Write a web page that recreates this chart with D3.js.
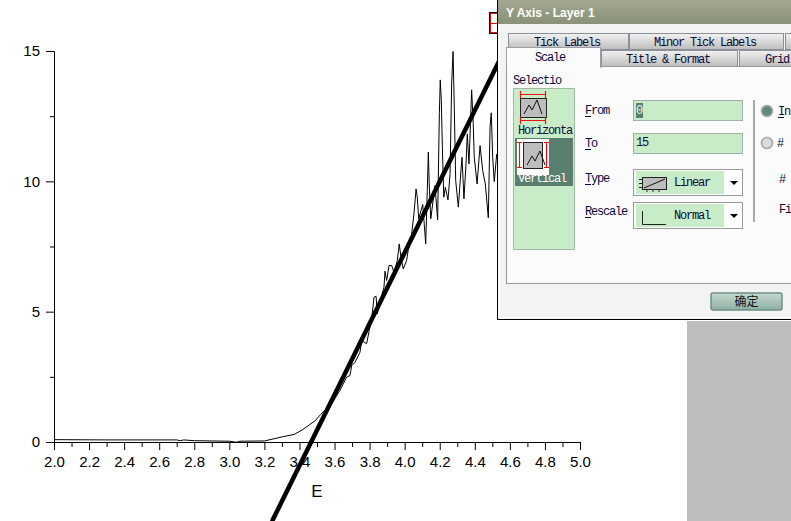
<!DOCTYPE html>
<html>
<head>
<meta charset="utf-8">
<script src="https://cdn.jsdelivr.net/npm/d3@7"></script>
<style>
html, body { margin: 0; padding: 0; background: #fff; overflow: hidden; }
svg { display: block; }
.tick text { font-family: "Liberation Sans", Arial, sans-serif; font-size: 15px; fill: #000; }
.ui { font-family: "Liberation Mono", monospace; font-size: 12px; letter-spacing: -1.2px; fill: #0a0a3a; }
</style>
</head>
<body>
<div id="chart"></div>
<script>
// curve
const energy = [2.0, 2.3, 2.7, 2.72, 2.74, 2.8, 3.0, 3.04, 3.06, 3.2, 3.31, 3.37, 3.42, 3.49, 3.52,
  3.584, 3.631, 3.669, 3.688, 3.698, 3.717, 3.745, 3.755, 3.783, 3.798, 3.812, 3.825, 3.837, 3.844, 3.859,
  3.882, 3.888, 3.897, 3.911, 3.926, 3.939, 3.958, 3.969, 3.979, 3.992, 4.011, 4.02, 4.035, 4.053, 4.065,
  4.072, 4.08, 4.103, 4.11, 4.12, 4.129, 4.135, 4.14, 4.149, 4.173, 4.188, 4.198, 4.203, 4.209, 4.215,
  4.223, 4.232, 4.247, 4.259, 4.268, 4.276, 4.283, 4.291, 4.306, 4.321, 4.327, 4.338, 4.35, 4.357, 4.367,
  4.382, 4.391, 4.397, 4.413, 4.43, 4.445, 4.46, 4.477, 4.487, 4.494, 4.502, 4.511, 4.525]
const intensity = [0.09, 0.08, 0.08, 0.05, 0.08, 0.05, 0.03, -0.01, 0.03, 0.04, 0.21, 0.29, 0.48, 0.82, 1.05,
  1.47, 1.98, 2.49, 2.55, 2.93, 3.06, 3.44, 3.89, 3.77, 4.28, 4.73, 5.55, 5.59, 4.92, 5.36,
  5.94, 6.55, 6.19, 6.77, 6.77, 6.51, 6.96, 7.6, 7.09, 6.64, 6.96, 7.35, 7.7, 8.75, 9.71,
  9.39, 8.56, 9.11, 8.5, 7.6, 9.65, 11.12, 9.9, 8.56, 9.84, 8.52, 12.65, 13.89, 13.1, 11.31,
  9.39, 9.77, 9.29, 10.29, 13.74, 14.98, 12.84, 10.03, 9.01, 10.41, 10.92, 9.33, 10.67, 11.82, 10.67,
  13.51, 12.2, 10.92, 9.9, 11.37, 10.41, 9.9, 8.6, 12.08, 12.63, 10.92, 9.99, 11.05]

// tangent line
const fitX = [3.243, 4.56]
const fitY = [-3.05, 14.9]

const xTicks = [2.0, 2.2, 2.4, 2.6, 2.8, 3.0, 3.2, 3.4, 3.6, 3.8, 4.0, 4.2, 4.4, 4.6, 4.8, 5.0]
const xMinor = [2.1, 2.3, 2.5, 2.7, 2.9, 3.1, 3.3, 3.5, 3.7, 3.9, 4.1, 4.3, 4.5, 4.7, 4.9]
const yTicks = [0, 5, 10, 15]
const yMinor = [2.5, 7.5, 12.5]

const svg = d3.select('#chart')
  .append('svg')
  .attr('width', 791)
  .attr('height', 521)

// Scales
const xScale = d3.scaleLinear().domain([2, 5]).range([54, 580])
const yScale = d3.scaleLinear().domain([0, 15]).range([442, 51])

// Axes
svg.append('g')
  .attr('transform', 'translate(0, 442)')
  .call(d3.axisBottom(xScale).tickValues(xTicks).tickFormat(d3.format('.1f')).tickSize(8).tickPadding(6).tickSizeOuter(0))
svg.append('g')
  .attr('transform', 'translate(0, 442)')
  .call(d3.axisBottom(xScale).tickValues(xMinor).tickFormat('').tickSize(5).tickSizeOuter(0))
svg.append('g')
  .attr('transform', 'translate(54, 0)')
  .call(d3.axisLeft(yScale).tickValues(yTicks).tickSize(8).tickPadding(6).tickSizeOuter(0))
svg.append('g')
  .attr('transform', 'translate(54, 0)')
  .call(d3.axisLeft(yScale).tickValues(yMinor).tickFormat('').tickSize(4).tickSizeOuter(0))

svg.append('text')
  .attr('x', 317)
  .attr('y', 497)
  .attr('text-anchor', 'middle')
  .attr('font-family', '"Liberation Sans", Arial, sans-serif')
  .attr('font-size', '17px')
  .text('E')

// Data
const line = d3.line().x(d => xScale(d[0])).y(d => yScale(d[1]))

svg.append('path')
  .datum(d3.zip(energy, intensity))
  .attr('d', line)
  .attr('fill', 'none')
  .attr('stroke', '#000')
  .attr('stroke-width', 1)

svg.append('path')
  .datum(d3.zip(fitX, fitY))
  .attr('d', line)
  .attr('fill', 'none')
  .attr('stroke', '#000')
  .attr('stroke-width', 4.5)

// Screenshot leftovers: grey window behind the dialog, selection handle
const rect = (p, x, y, w, h, fill, stroke) => p.append('rect')
  .attr('x', x).attr('y', y).attr('width', w).attr('height', h)
  .attr('fill', fill).attr('stroke', stroke || 'none')

const label = (p, x, y, s, cls) => p.append('text')
  .attr('class', cls || 'ui').attr('x', x).attr('y', y).text(s)

rect(svg, 687, 321, 104, 200, '#bdbdbd')
rect(svg, 489.5, 12.5, 9, 21, '#fff', '#000')
rect(svg, 490.5, 13.5, 8, 19, 'none', '#e01010')
svg.append('path').attr('d', 'M490 23.5H498').attr('stroke', '#e01010')

// Gradients for the dialog
const defs = svg.append('defs')
const grad = (id, a, b) => {
  const g = defs.append('linearGradient').attr('id', id).attr('x1', 0).attr('y1', 0).attr('x2', 0).attr('y2', 1)
  g.append('stop').attr('offset', 0).attr('stop-color', a)
  g.append('stop').attr('offset', 1).attr('stop-color', b)
}
grad('title', '#a1a88f', '#899178')
grad('tab', '#f2f2f2', '#bdbdbd')
grad('btn', '#c4d8d0', '#8fb0a4')

// Dialog
const dlg = svg.append('g')
rect(dlg, 497.5, 0.5, 300, 319, '#f3f3f3', '#000')
dlg.append('path').attr('d', 'M499.5 0V317.5H791').attr('fill', 'none').attr('stroke', '#fff')
rect(dlg, 498, 0, 293, 24, 'url(#title)')
dlg.append('text')
  .attr('x', 506).attr('y', 16.5)
  .attr('font-family', '"Liberation Sans", Arial, sans-serif')
  .attr('font-weight', 'bold').attr('font-size', '12px')
  .attr('fill', '#fff')
  .text('Y Axis - Layer 1')

// Tabs
const tab = (x, w, y, s, tx) => {
  rect(dlg, x + 0.5, y + 0.5, w, 16, 'url(#tab)', '#8b9098')
  label(dlg, tx, y + 13, s)
}
tab(508, 120, 33, 'Tick Labels', 534)
tab(629, 154, 33, 'Minor Tick Labels', 654)
tab(785, 20, 33, '', 790)
tab(601, 136, 50, 'Title & Format', 626)
tab(739, 60, 50, 'Grid', 765)

// Page and active tab
rect(dlg, 506.5, 66.5, 300, 217, '#fbfbfb', '#9a9a9a')
rect(dlg, 506.5, 47.5, 94, 20, '#fbfbfb', '#9a9fa6')
rect(dlg, 507, 62, 93, 7, '#fbfbfb')
label(dlg, 535, 61, 'Scale')

// Selection list
label(dlg, 513, 84, 'Selectio')
rect(dlg, 513.5, 88.5, 61, 161, '#c8ecc8', '#a3b8a6')
rect(dlg, 515, 138, 58, 48, '#5a7f6e')
rect(dlg, 517, 139, 32, 36, '#fff')

const axisIcon = (x, y, w, h) => {
  rect(dlg, x + 0.5, y + 0.5, w, h, '#bdbdbd', '#222')
  dlg.append('path')
    .attr('d', `M${x + 4} ${y + h - 3}l5 -9l3 5l5 -10l5 14`)
    .attr('fill', 'none').attr('stroke', '#111')
}
axisIcon(520, 98, 26, 19)
axisIcon(523, 142, 19, 26)
const red = d => dlg.append('path').attr('d', d).attr('fill', 'none').attr('stroke', '#ee1111').attr('stroke-width', 1.2)
red('M521 94.5H545M521 120.5H545M520.5 91V98M545.5 91V98M520.5 117V124M545.5 117V124')
red('M519.5 143V167M546.5 143V167M517 142.5H522M517 167.5H522M544 142.5H549M544 167.5H549')
label(dlg, 518, 134, 'Horizonta')
label(dlg, 518, 182, 'Vertical').style('fill', '#fff')

// From / To / Type / Rescale
const underlined = (x, y, s) => {
  label(dlg, x, y, s)
  dlg.append('path').attr('d', `M${x} ${y + 2.5}h6`).attr('stroke', '#0a0a3a')
}
underlined(585, 114, 'From')
underlined(585, 147, 'To')
underlined(585, 182, 'Type')
underlined(585, 215, 'Rescale')

rect(dlg, 633.5, 100.5, 109, 20, '#c8ecc8', '#9fb0ad')
rect(dlg, 633.5, 133.5, 109, 20, '#c8ecc8', '#9fb0ad')
rect(dlg, 636, 103, 7, 15, '#5a7f6e')
label(dlg, 636, 114, '0').style('fill', '#e8f4ee')
label(dlg, 636, 146, '15')

const combo = (y, s) => {
  rect(dlg, 633.5, y + 0.5, 109, 26, '#fff', '#9a9a9a')
  rect(dlg, 636, y + 2, 88, 23, '#c8ecc8')
  label(dlg, 674, y + 17, s)
  dlg.append('path').attr('d', `M730 ${y + 12}h8l-4 4z`).attr('fill', '#000')
}
combo(169, 'Linear')
combo(202, 'Normal')

// Combo icons
rect(dlg, 642.5, 177.5, 24, 12, '#bdbdbd', '#222')
dlg.append('path').attr('d', 'M644 188L665 179').attr('stroke', '#111')
dlg.append('path')
  .attr('d', 'M639 179.5h3M639 183.5h3M639 187.5h3M647 190v2M653 190v2M659 190v2M642.5 211V224.5H666')
  .attr('fill', 'none').attr('stroke', '#222')

// Separator and radios
rect(dlg, 753, 100, 2, 122, '#a8a8a8')
const radio = (cy, fill) => dlg.append('circle')
  .attr('cx', 767).attr('cy', cy).attr('r', 5.5)
  .attr('fill', fill).attr('stroke', '#a0a8a4').attr('stroke-width', 1.5)
radio(111, '#5f8a78')
radio(143, '#dcdcdc')
underlined(778, 115, 'In')
label(dlg, 777, 147, '#')
label(dlg, 779, 183, '#')
label(dlg, 779, 213, 'Fi')

// OK button
dlg.append('rect')
  .attr('x', 711).attr('y', 293).attr('width', 71).attr('height', 17).attr('rx', 2)
  .attr('fill', 'url(#btn)').attr('stroke', '#6d8f84').attr('stroke-width', 1.5)
dlg.append('text')
  .attr('x', 746.5).attr('y', 306)
  .attr('text-anchor', 'middle')
  .attr('font-family', '"Noto Sans CJK SC", sans-serif')
  .attr('font-size', '12px')
  .attr('fill', '#111')
  .text('确定')
</script>
</body>
</html>
